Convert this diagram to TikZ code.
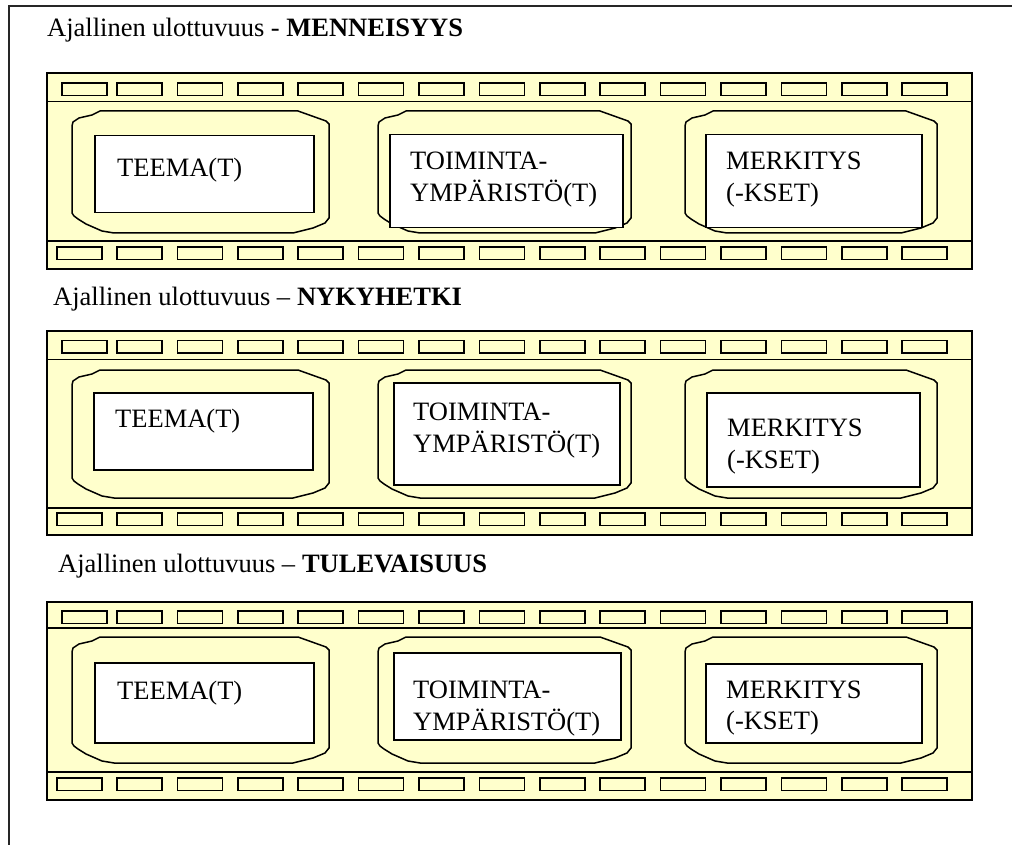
\documentclass[tikz,border=0pt]{standalone}
\usepackage{fontspec}
\setmainfont{Liberation Serif}
\definecolor{filmyellow}{HTML}{FFFFCC}
\newcommand\FilmStrip[4]{% #1 top, #2 upper band line, #3 lower band line, #4 bottom
  \draw[film] (47,#1) rectangle (972,#4);
  \draw[film] (47,#2) -- (972,#2);
  \draw[film] (47,#3) -- (972,#3);
  \draw[hole] (62,{#1+9.5}) rectangle +(45,12.5);
  \draw[hole] (57,{#4-22}) rectangle +(45,12.5);
  \foreach \k in {0,...,13}{
    \draw[hole] ({117+60.4*\k},{#1+9.5}) rectangle +(45,12.5);
    \draw[hole] ({117+60.4*\k},{#4-22}) rectangle +(45,12.5);
  }
}
\newcommand\FilmFrame[4]{% x0 y0 x1 y1
  \draw[frm] (#1,{#2+15}) -- ({#1+1},{#2+11}) -- ({#1+7},{#2+7}) -- ({#1+20},{#2+4}) -- ({#1+28},#2)
    -- ({#3-31},#2) -- ({#3-17},{#2+5}) -- ({#3-3},{#2+10}) -- (#3,{#2+13})
    -- (#3,{#4-15}) -- ({#3-4},{#4-10}) -- ({#3-16},{#4-5}) -- ({#3-36},#4)
    -- ({#1+42},#4) -- ({#1+30},{#4-2}) -- ({#1+14},{#4-9}) -- ({#1+6},{#4-14}) -- ({#1+2},{#4-17}) -- (#1,{#4-20}) -- cycle;
}
\begin{document}
\begin{tikzpicture}[x=1pt,y=-1pt,
  film/.style={draw=black, line width=1.8pt, fill=filmyellow},
  hole/.style={draw=black, line width=1.5pt, fill=filmyellow},
  frm/.style={draw=black, line width=1.5pt, fill=filmyellow},
  inbox/.style={draw=black, line width=1.5pt, fill=white, rectangle, inner sep=0pt, anchor=north west},
  lbl/.style={anchor=base west, inner sep=0pt, font=\fontsize{26.5}{32}\selectfont},
  border/.style={draw=black!85, line width=1.6pt}]
\useasboundingbox (0,0) rectangle (1012,845);
\coordinate (bl) at (9,845);
\coordinate (tl) at (9,6);
\coordinate (tr) at (1012,6);
\draw[border] (bl) -- (tl) -- (tr);

% ---------- strip 1 : MENNEISYYS ----------
\node[lbl] (h1) at (47,37) {Ajallinen ulottuvuus - \textbf{MENNEISYYS}};
\FilmStrip{73.3}{101.5}{241}{269}
\FilmFrame{72}{111}{329}{233}
\FilmFrame{378}{111}{631}{233}
\FilmFrame{685}{111}{937}{233}
\node[inbox, minimum width=219pt, minimum height=77pt] (a1) at (94,135) {};
\node[inbox, minimum width=233pt, minimum height=93pt] (a2) at (389,134) {};
\node[inbox, minimum width=216pt, minimum height=93pt] (a3) at (705,134) {};
\node[lbl] (a1t) at (117,177) {TEEMA(T)};
\node[lbl] (a2t) at (410,170) {TOIMINTA-};
\node[lbl] (a2u) at (410,202) {YMPÄRISTÖ(T)};
\node[lbl] (a3t) at (726,170) {MERKITYS};
\node[lbl] (a3u) at (726,202) {(-KSET)};

% ---------- strip 2 : NYKYHETKI ----------
\node[lbl] (h2) at (53,305) {Ajallinen ulottuvuus – \textbf{NYKYHETKI}};
\FilmStrip{331}{359.5}{508}{535}
\FilmFrame{72}{370}{329}{498}
\FilmFrame{378}{370}{631}{498}
\FilmFrame{685}{370}{937}{498}
\node[inbox, minimum width=219pt, minimum height=77pt] (b1) at (93,392) {};
\node[inbox, minimum width=226pt, minimum height=102pt] (b2) at (393,382) {};
\node[inbox, minimum width=213pt, minimum height=94pt] (b3) at (706,392) {};
\node[lbl] (b1t) at (115,427) {TEEMA(T)};
\node[lbl] (b2t) at (413,420) {TOIMINTA-};
\node[lbl] (b2u) at (413,452) {YMPÄRISTÖ(T)};
\node[lbl] (b3t) at (727,436) {MERKITYS};
\node[lbl] (b3u) at (727,468) {(-KSET)};

% ---------- strip 3 : TULEVAISUUS ----------
\node[lbl] (h3) at (58,572) {Ajallinen ulottuvuus – \textbf{TULEVAISUUS}};
\FilmStrip{601.7}{628}{772}{800}
\FilmFrame{72}{637}{329}{763}
\FilmFrame{378}{637}{631}{763}
\FilmFrame{685}{637}{937}{763}
\node[inbox, minimum width=219pt, minimum height=80pt] (c1) at (94,662) {};
\node[inbox, minimum width=227pt, minimum height=87pt] (c2) at (393,652) {};
\node[inbox, minimum width=216pt, minimum height=79pt] (c3) at (705,663) {};
\node[lbl] (c1t) at (117,699) {TEEMA(T)};
\node[lbl] (c2t) at (413,698) {TOIMINTA-};
\node[lbl] (c2u) at (413,730) {YMPÄRISTÖ(T)};
\node[lbl] (c3t) at (726,698) {MERKITYS};
\node[lbl] (c3u) at (726,729) {(-KSET)};
\end{tikzpicture}
\end{document}
